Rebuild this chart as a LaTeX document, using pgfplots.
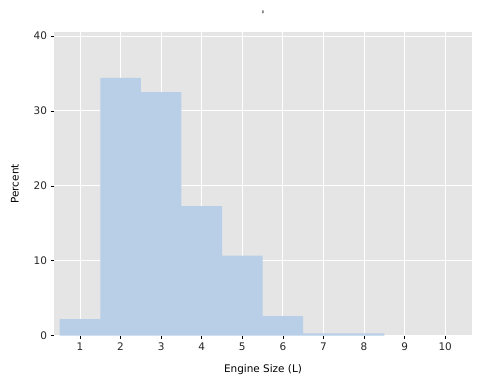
\documentclass[border=0pt]{standalone}
\usepackage{pgfplots}
\pgfplotsset{compat=1.18}
\usepackage{fontspec}
\setmainfont{DejaVu Sans}
\definecolor{bgc}{HTML}{E5E5E5}
\definecolor{barc}{HTML}{B8CFE7}
\begin{document}
\begin{tikzpicture}
\path[use as bounding box] (0bp,0bp) rectangle (480bp,384bp);
\begin{axis}[
  at={(54bp,48.3bp)}, anchor=south west,
  scale only axis, width=418bp, height=303.5bp,
  xmin=0.36, xmax=10.66, ymin=0, ymax=40.5,
  axis background/.style={fill=bgc},
  axis line style={draw=none},
  xtick={1,...,10}, ytick={0,10,20,30,40},
  major grid style={white, line width=0.8bp},
  grid=major,
  tick style={black, line width=0.6bp},
  major tick length=3.5bp,
  tick align=outside,
  xtick pos=bottom, ytick pos=left,
  /pgf/number format/assume math mode=true,
  ticklabel style={font=\fontsize{10.5}{12}\selectfont, text=black!85},
  xlabel={Engine Size (L)}, ylabel={Percent},
  label style={font=\fontsize{10.5}{12}\selectfont},
  xlabel style={yshift=-7bp},
  ylabel style={yshift=8bp},
  title={\textquotesingle}, title style={font=\fontsize{10.5}{12}\selectfont, yshift=4bp},
]
\addplot[ybar interval, fill=barc, draw=none] coordinates {
  (0.5,2.2) (1.5,34.4) (2.5,32.5) (3.5,17.3) (4.5,10.7) (5.5,2.6) (6.5,0.3) (7.5,0.3) (8.5,0.3)
};
\end{axis}
\end{tikzpicture}
\end{document}
